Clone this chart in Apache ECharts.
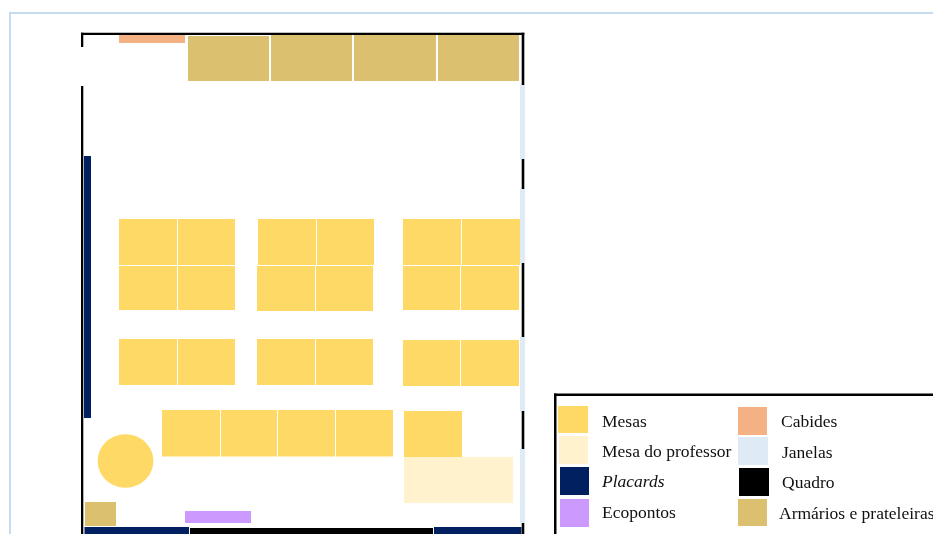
<!DOCTYPE html>
<html>
<head>
<meta charset="utf-8">
<title>Planta da sala</title>
<script src="https://cdn.jsdelivr.net/npm/echarts@6/dist/echarts.min.js"></script>
<style>
  html, body { margin: 0; padding: 0; background: #fff; }
  #main { width: 933px; height: 534px; }
</style>
</head>
<body>
<div id="main"></div>
<script>
// every rectangle is [x0, y0, x1, y1] in plan units
var pageFrame = [[9, 12, 933, 14], [9, 12, 11, 534]];
var walls = [
  [81, 32.7, 524.3, 35], [81, 32.7, 83.3, 47], [81, 86, 83.3, 534],
  [521.7, 32.7, 524.3, 86], [521.7, 159, 524.3, 190], [521.7, 263, 524.3, 337],
  [521.7, 411, 524.3, 449], [521.7, 523, 524.3, 534]
];
var mesas = [
  [119, 219, 177, 265], [178, 219, 235, 265], [119, 266, 177, 310], [178, 266, 235, 310],
  [258, 219, 316, 265], [317, 219, 374, 265], [257, 266, 315, 311], [316, 266, 373, 311],
  [403, 219, 461, 265], [462, 219, 520, 265], [403, 266, 460, 310], [461, 266, 519, 310],
  [119, 339, 177, 385], [178, 339, 235, 385], [257, 339, 315, 385], [316, 339, 373, 385],
  [403, 340, 460, 386], [461, 340, 519, 386],
  [162, 410, 220, 456.5], [221, 410, 277, 456.5], [278, 410, 335, 456.5], [336, 410, 393, 456.5],
  [404, 411, 462, 457]
];
var mesaRedonda = [[97.7, 434.3, 153.3, 487.7]];
var mesaProfessor = [[404, 457, 513, 503]];
var placards = [[84, 156, 91, 418], [84.5, 527, 189, 534], [434, 527, 521.5, 534]];
var ecopontos = [[185, 511, 251, 523]];
var cabides = [[119, 35, 185, 43]];
var janelas = [
  [520, 85, 525, 159], [520, 189, 525, 263], [520, 337, 525, 411], [520, 449, 525, 523]
];
var quadro = [[190, 528, 433, 534]];
var armarios = [
  [188, 36, 269, 81], [271, 35, 352, 81], [354, 35, 436, 81], [438, 35, 519, 81],
  [85, 502, 116, 526]
];

var legendBox = [[554, 393.5, 933, 396], [554, 393.5, 556.5, 534]];
var legendNames = ['Mesas', 'Mesa do professor', 'Placards', 'Ecopontos', 'Cabides', 'Janelas', 'Quadro', 'Armários e prateleiras'];
var legendColors = ['#FFD966', '#FFF2CC', '#002060', '#CC99FF', '#F4B183', '#DEEAF6', '#000000', '#DBC06F'];
var legendSwatches = [
  [558, 406, 588, 433], [559, 436, 588, 464], [560, 467, 589, 495], [560, 499, 589, 527],
  [738, 407, 767, 435], [738, 437, 768, 465], [739, 468, 769, 496], [738, 499, 767, 526]
];
var legendLabelX = [602, 602, 602, 602, 781, 782, 782, 779];
var legendLabelY = [422, 452.5, 482.5, 513.5, 422.5, 453, 483.5, 514];

function rectSeries(name, rows, color) {
  return {
    name: name,
    type: 'custom',
    encode: { x: [0, 2], y: [1, 3] },
    data: rows,
    renderItem: function (params, api) {
      var a = api.coord([api.value(0), api.value(1)]);
      var b = api.coord([api.value(2), api.value(3)]);
      return {
        type: 'rect',
        shape: { x: a[0], y: a[1], width: b[0] - a[0], height: b[1] - a[1] },
        style: { fill: color }
      };
    }
  };
}

function ellipseSeries(name, rows, color) {
  return {
    name: name,
    type: 'custom',
    encode: { x: [0, 2], y: [1, 3] },
    data: rows,
    renderItem: function (params, api) {
      var a = api.coord([api.value(0), api.value(1)]);
      var b = api.coord([api.value(2), api.value(3)]);
      return {
        type: 'ellipse',
        shape: { cx: (a[0] + b[0]) / 2, cy: (a[1] + b[1]) / 2, rx: (b[0] - a[0]) / 2, ry: (b[1] - a[1]) / 2 },
        style: { fill: color }
      };
    }
  };
}

var labelRows = legendNames.map(function (n, i) {
  return [legendLabelX[i], legendLabelY[i], n];
});

var legendSeries = legendSwatches.map(function (row, i) {
  return rectSeries('legenda ' + legendNames[i], [row], legendColors[i]);
});

var myChart = echarts.init(document.getElementById('main'), null, { renderer: 'canvas' });

var option = {
  animation: false,
  backgroundColor: '#fff',
  grid: { left: 0, right: 0, top: 0, bottom: 0 },
  xAxis: { type: 'value', min: 0, max: 933, show: false },
  yAxis: { type: 'value', min: 0, max: 534, inverse: true, show: false },
  series: [
    rectSeries('moldura', pageFrame, '#C5DCF0'),
    rectSeries('paredes', walls, '#000000'),
    rectSeries('Mesas', mesas, legendColors[0]),
    ellipseSeries('Mesa redonda', mesaRedonda, legendColors[0]),
    rectSeries('Mesa do professor', mesaProfessor, legendColors[1]),
    rectSeries('Placards', placards, legendColors[2]),
    rectSeries('Ecopontos', ecopontos, legendColors[3]),
    rectSeries('Cabides', cabides, legendColors[4]),
    rectSeries('Janelas', janelas, legendColors[5]),
    rectSeries('Quadro', quadro, legendColors[6]),
    rectSeries('Armários e prateleiras', armarios, legendColors[7]),
    rectSeries('caixa da legenda', legendBox, '#000000')
  ].concat(legendSeries, [{
    name: 'textos da legenda',
    type: 'custom',
    encode: { x: 0, y: 1 },
    data: labelRows,
    renderItem: function (params, api) {
      var p = api.coord([api.value(0), api.value(1)]);
      var name = labelRows[params.dataIndex][2];
      return {
        type: 'text',
        style: {
          x: p[0],
          y: p[1],
          text: name,
          fill: '#111',
          font: (name === 'Placards' ? 'italic ' : '') + '17.5px "Liberation Serif"',
          textAlign: 'left',
          textVerticalAlign: 'middle'
        }
      };
    }
  }])
};

myChart.setOption(option);
</script>
</body>
</html>
